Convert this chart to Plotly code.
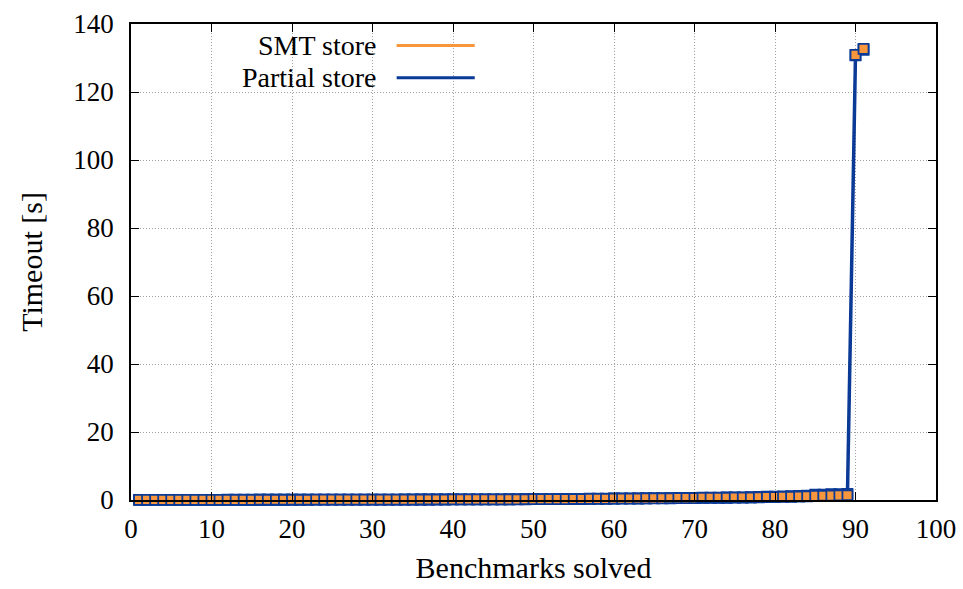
import plotly.graph_objects as go

# ---- data ----
benchmarks = [1, 2, 3, 4, 5, 6, 7, 8, 9, 10,
              11, 12, 13, 14, 15, 16, 17, 18, 19, 20,
              21, 22, 23, 24, 25, 26, 27, 28, 29, 30,
              31, 32, 33, 34, 35, 36, 37, 38, 39, 40,
              41, 42, 43, 44, 45, 46, 47, 48, 49, 50,
              51, 52, 53, 54, 55, 56, 57, 58, 59, 60,
              61, 62, 63, 64, 65, 66, 67, 68, 69, 70,
              71, 72, 73, 74, 75, 76, 77, 78, 79, 80,
              81, 82, 83, 84, 85, 86, 87, 88, 89, 90, 91]

smt_store = [0.04, 0.04, 0.05, 0.05, 0.05, 0.05, 0.06, 0.06, 0.06, 0.06,
             0.06, 0.07, 0.07, 0.07, 0.07, 0.08, 0.08, 0.08, 0.08, 0.09,
             0.09, 0.09, 0.10, 0.10, 0.10, 0.11, 0.11, 0.11, 0.12, 0.12,
             0.12, 0.13, 0.13, 0.14, 0.14, 0.15, 0.15, 0.16, 0.16, 0.17,
             0.17, 0.18, 0.19, 0.19, 0.20, 0.21, 0.22, 0.23, 0.24, 0.25,
             0.26, 0.28, 0.29, 0.31, 0.33, 0.35, 0.37, 0.39, 0.41, 0.44,
             0.46, 0.48, 0.50, 0.52, 0.54, 0.56, 0.58, 0.60, 0.62, 0.64,
             0.66, 0.68, 0.70, 0.73, 0.76, 0.80, 0.84, 0.90, 0.95, 1.00,
             1.05, 1.10, 1.20, 1.30, 1.55, 1.60, 1.70, 1.75, 1.80, 130.8, 132.4]

partial_store = [0.03, 0.03, 0.04, 0.04, 0.04, 0.04, 0.05, 0.05, 0.05, 0.05,
                 0.05, 0.06, 0.06, 0.06, 0.06, 0.07, 0.07, 0.07, 0.07, 0.08,
                 0.08, 0.08, 0.09, 0.09, 0.09, 0.10, 0.10, 0.10, 0.11, 0.11,
                 0.11, 0.12, 0.12, 0.13, 0.13, 0.14, 0.14, 0.15, 0.15, 0.16,
                 0.16, 0.17, 0.17, 0.18, 0.18, 0.19, 0.20, 0.21, 0.22, 0.23,
                 0.24, 0.25, 0.26, 0.27, 0.29, 0.30, 0.32, 0.34, 0.36, 0.38,
                 0.40, 0.42, 0.44, 0.46, 0.48, 0.50, 0.52, 0.54, 0.56, 0.58,
                 0.60, 0.62, 0.64, 0.66, 0.68, 0.70, 0.74, 0.78, 0.82, 0.86,
                 0.90, 0.95, 1.00, 1.05, 1.20, 1.25, 1.30, 1.35, 1.40, 130.9, 132.7]

x_ticks = [0, 10, 20, 30, 40, 50, 60, 70, 80, 90, 100]
y_ticks = [0, 20, 40, 60, 80, 100, 120, 140]

series_names = ["SMT store", "Partial store"]

ORANGE = "#F7963C"
BLUE = "#0A3A96"
FONT = "'Liberation Serif', 'Times New Roman', Times, serif"
TICK_SIZE = 27
TEXT_SIZE = 30
LEGEND_SIZE = 28

fig = go.Figure()

fig.add_trace(go.Scatter(
    x=benchmarks, y=smt_store, name=series_names[0], mode="lines+markers",
    line=dict(color=ORANGE, width=2),
    marker=dict(symbol="square", size=10, color=ORANGE,
                line=dict(color=BLUE, width=1.8)),
    cliponaxis=False, showlegend=False))

fig.add_trace(go.Scatter(
    x=benchmarks, y=partial_store, name=series_names[1], mode="lines+markers",
    line=dict(color=BLUE, width=3.5),
    marker=dict(symbol="square", size=10, color=ORANGE,
                line=dict(color=BLUE, width=1.8)),
    cliponaxis=False, showlegend=False))

# gnuplot-style legend: text right-aligned, line sample to the right
legend_rows = [(series_names[0], ORANGE, 0.955), (series_names[1], BLUE, 0.887)]
for name, col, yy in legend_rows:
    fig.add_annotation(x=0.307, y=yy, xref="paper", yref="paper", text=name,
                       showarrow=False, xanchor="right", yanchor="middle",
                       borderpad=0,
                       font=dict(family=FONT, size=LEGEND_SIZE, color="black"))
    fig.add_shape(type="line", xref="paper", yref="paper",
                  x0=0.330, x1=0.427, y0=yy, y1=yy,
                  line=dict(color=col, width=3))

axis_common = dict(
    showline=True, linecolor="black", linewidth=1.5, mirror="ticks",
    ticks="inside", ticklen=8, tickwidth=1.2, tickcolor="black",
    showgrid=True, gridcolor="#A0A0A0", griddash="1px,2px", gridwidth=1,
    zeroline=False, automargin=False,
    tickfont=dict(family=FONT, size=TICK_SIZE, color="black"),
)

fig.update_xaxes(range=[0, 100], tickvals=x_ticks, ticklabelstandoff=4,
                 title=dict(text="Benchmarks solved", standoff=14,
                            font=dict(family=FONT, size=TEXT_SIZE, color="black")),
                 **axis_common)
fig.update_yaxes(range=[0, 140], tickvals=y_ticks, ticklabelstandoff=10,
                 title=dict(text="Timeout [s]", standoff=22,
                            font=dict(family=FONT, size=TEXT_SIZE, color="black")),
                 **axis_common)

fig.update_layout(
    width=963, height=589,
    margin=dict(l=131, r=27, t=24, b=89),
    paper_bgcolor="white", plot_bgcolor="white",
    showlegend=False,
)

fig.write_html("out.html")
